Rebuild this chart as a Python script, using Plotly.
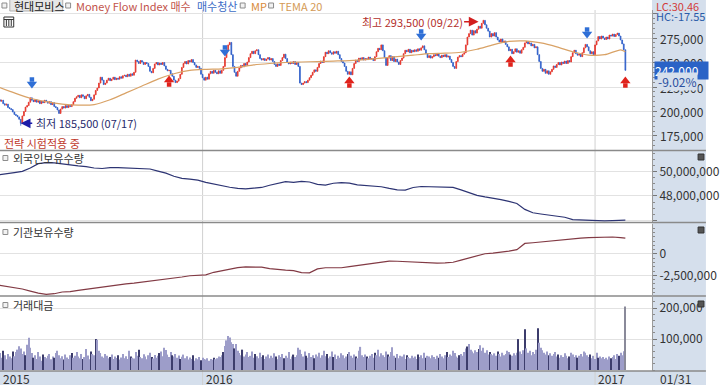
import plotly.graph_objects as go

# ---------------- data ----------------
# daily closes, thousands of KRW (2015-06 .. 2017-01-31), trading-day index 0..393
close_k = [
    212.0, 210.5, 211.5, 208.0, 206.5, 207.5, 204.0, 203.0, 202.0, 199.5,
    197.0, 196.0, 194.5, 192.0, 188.0, 195.5, 200.0, 204.5, 206.0, 209.5,
    214.0, 211.5, 210.0, 212.0, 209.5, 211.0, 208.0, 210.5, 209.0, 211.5,
    210.0, 208.5, 210.0, 207.0, 209.0, 205.0, 204.0, 201.5, 198.0, 202.5,
    205.0, 203.5, 206.0, 204.0, 206.5, 205.0, 207.0, 210.0, 213.5, 215.0,
    216.5, 214.0, 217.0, 215.5, 213.0, 216.0, 217.5, 214.5, 211.0, 212.5,
    217.0, 221.5, 224.0, 229.0, 235.0, 232.0, 227.5, 229.0, 232.0, 234.0,
    231.5, 233.0, 235.0, 232.5, 234.0, 233.0, 235.5, 234.0, 236.5, 237.0,
    235.5, 238.0, 236.0, 238.5, 237.0, 240.0, 252.5, 251.0, 249.0, 252.0,
    250.5, 248.0, 250.0, 249.0, 246.0, 241.0, 239.5, 244.0, 248.5, 250.0,
    247.5, 249.5, 248.0, 250.0, 246.5, 243.0, 241.5, 242.0, 238.5, 236.0,
    232.0, 229.5, 231.0, 233.5, 238.0, 245.0, 249.0, 251.0, 248.5, 252.0,
    250.5, 253.0, 250.0, 247.5, 245.0, 246.0, 244.0, 238.0, 234.5, 232.0,
    235.0, 233.0, 238.5, 241.0, 239.0, 242.0, 240.0, 238.5, 241.5, 239.0,
    242.0, 246.0, 255.0, 263.0, 268.0, 270.5, 258.0, 246.0, 240.0, 236.0,
    241.0, 244.5, 247.0, 245.5, 249.0, 247.0, 250.5, 255.0, 259.0, 261.5,
    259.0, 262.0, 263.0, 258.0, 254.0, 252.5, 254.0, 252.0, 253.5, 255.0,
    252.5, 254.0, 251.0, 248.0, 246.0, 248.5, 247.0, 252.0, 255.0, 258.5,
    254.0, 250.0, 248.5, 250.5, 249.0, 251.0, 248.0, 250.0, 246.0, 229.0,
    227.5, 229.0, 230.5, 229.5, 232.0, 234.5, 237.0, 240.0, 242.5, 241.0,
    245.0, 249.0, 251.5, 250.0, 256.0, 260.5, 259.0, 262.0, 260.0, 258.5,
    261.0, 259.5, 261.5, 258.0, 254.0, 251.0, 249.5, 246.0, 241.0, 238.0,
    240.5, 237.5, 244.0, 249.0, 252.5, 251.0, 254.5, 253.0, 255.0, 252.5,
    254.0, 253.0, 255.5, 253.5, 254.0, 252.0, 256.0, 261.0, 264.5, 263.0,
    268.0, 262.0, 255.0, 247.0, 254.5, 257.0, 252.0, 256.0, 251.0, 253.5,
    250.5, 248.0, 252.0, 254.5, 259.0, 262.5, 261.0, 263.5, 260.0, 262.5,
    261.0, 263.0, 261.5, 264.0, 262.5, 265.0, 267.0, 263.0, 259.0, 255.0,
    257.0, 254.5, 256.0, 258.0, 257.0, 259.0, 256.5, 255.0, 257.5, 256.0,
    258.0, 255.5, 256.5, 253.0, 250.0, 246.0, 244.0, 251.0, 255.5, 257.0,
    256.0, 258.5, 260.0, 268.0, 276.0, 279.5, 283.0, 278.0, 282.5, 280.0,
    284.0, 287.0, 285.0, 290.0, 293.0, 288.5, 285.0, 282.0, 276.0, 279.5,
    277.0, 280.5, 276.0, 273.0, 271.0, 274.0, 270.5, 272.0, 268.5, 266.0,
    262.0, 263.5, 259.0, 261.0, 264.0, 260.5, 262.0, 259.5, 263.0, 265.5,
    270.0, 271.5, 269.0, 270.0, 267.0, 268.5, 265.0, 266.0, 258.0, 251.0,
    244.0, 241.0, 243.0, 239.0, 241.5, 238.0, 240.5, 243.0, 246.5, 245.0,
    248.0, 250.0, 247.5, 250.5, 249.0, 251.5, 249.0, 252.0, 250.5, 256.0,
    260.0, 262.5, 259.0, 257.5, 258.5, 256.0, 260.0, 265.0, 268.5, 266.0,
    262.0, 259.0, 261.0, 258.0, 268.0, 272.0, 276.5, 274.0, 277.0, 275.0,
    273.5, 276.0, 274.0, 278.0, 277.0, 279.0, 276.5, 278.5, 280.0, 277.0,
    273.0, 269.0, 263.0, 242.0,
]
first_open_k = 213.0
low_day, low_value = 14, 185500
high_day, high_value = 304, 293500

# MP line (sparse readings)
mp_idx = [0, 10, 20, 30, 40, 50, 60, 70, 80, 90, 100, 110, 120, 130, 140, 150, 160, 170, 180, 190,
          200, 210, 220, 230, 240, 250, 260, 270, 280, 290, 300, 310, 320, 330, 340, 350, 360, 370,
          380, 390, 393]
mp_k = [225, 219, 213.5, 210, 207.5, 206.5, 207, 212, 219, 226, 233, 238.5, 242, 243, 243.5, 245,
        247.5, 249, 250, 250.5, 251, 251.5, 252, 253, 254.5, 256, 257.5, 259, 259.5, 260.5, 263.5,
        268, 271.5, 272, 270, 266, 261, 257.5, 258, 263, 261]

# foreign / institutional holdings (millions of shares), every 5 trading days
hold_idx = list(range(0, 394, 5)) + [393]
foreign_m = [49.73, 49.85, 49.92, 50.02, 50.30, 50.66, 50.74, 50.72, 50.62, 50.55,
             50.48, 50.42, 50.30, 50.26, 50.34, 50.33, 50.30, 50.29, 50.27, 50.22,
             50.05, 49.88, 49.62, 49.45, 49.38, 49.30, 49.12, 48.98, 48.80, 48.72,
             48.62, 48.58, 48.64, 48.70, 48.88, 49.05, 49.18, 49.12, 49.20, 49.15,
             48.95, 48.90, 49.05, 49.10, 49.05, 48.92, 48.85, 48.82, 48.76, 48.62,
             48.50, 48.48, 48.70, 48.78, 48.76, 48.78, 48.74, 48.70, 48.50, 48.30,
             48.05, 47.92, 47.84, 47.70, 47.55, 47.38, 46.90, 46.62, 46.52, 46.42,
             46.36, 46.25, 46.05, 46.02, 45.96, 45.97, 45.95, 45.98, 46.00, 46.02]
inst_m = [-3.65, -3.78, -3.95, -4.10, -4.35, -4.58, -4.72, -4.65, -4.45, -4.40,
          -4.25, -4.12, -3.95, -3.88, -3.70, -3.62, -3.50, -3.42, -3.30, -3.22,
          -3.10, -3.02, -2.85, -2.70, -2.55, -2.48, -2.44, -2.15, -1.98, -1.80,
          -1.60, -1.52, -1.50, -1.55, -1.72, -1.85, -1.90, -1.95, -2.18, -2.22,
          -1.75, -1.62, -1.65, -1.62, -1.48, -1.35, -1.28, -1.15, -1.02, -0.85,
          -0.86, -0.92, -0.95, -1.02, -1.06, -1.08, -1.05, -0.98, -0.72, -0.48,
          -0.15, 0.02, 0.10, 0.20, 0.32, 0.50, 1.22, 1.30, 1.40, 1.45,
          1.58, 1.70, 1.80, 1.85, 1.90, 1.92, 1.94, 1.97, 1.90, 1.84]

# trading value (millions of KRW, in thousands)
value_k = [
    94, 55, 40, 62, 48, 35, 52, 44, 38, 60, 45, 58, 66, 77, 70, 52, 60, 48, 82, 104,
    72, 55, 40, 48, 36, 58, 44, 30, 50, 42, 38, 46, 52, 35, 44, 40, 55, 62, 48, 38,
    45, 34, 50, 41, 36, 48, 55, 40, 46, 58, 44, 38, 52, 36, 42, 68, 47, 35, 60, 52,
    48, 100, 98, 62, 55, 44, 40, 52, 46, 38, 42, 50, 36, 44, 39, 48, 34, 41, 52, 38,
    45, 36, 62, 44, 40, 37, 58, 46, 66, 42, 38, 51, 44, 35, 48, 56, 42, 37, 49, 40,
    46, 55, 60, 45, 72, 65, 50, 42, 58, 48, 44, 52, 40, 47, 36, 43, 50, 38, 45, 34,
    41, 36, 48, 30, 38, 35, 42, 32, 40, 36, 34, 38, 30, 36, 33, 40, 35, 38, 44, 42,
    48, 58, 78, 96, 110, 105, 90, 84, 70, 84, 62, 55, 48, 66, 44, 50, 58, 42, 46, 60,
    40, 52, 45, 38, 56, 42, 48, 36, 44, 50, 38, 46, 40, 54, 44, 35, 48, 42, 52, 38,
    46, 40, 58, 36, 44, 50, 42, 48, 72, 66, 52, 44, 60, 46, 40, 55, 42, 48, 38, 50,
    44, 56, 40, 48, 62, 45, 52, 38, 44, 60, 42, 50, 36, 46, 40, 54, 48, 38, 44, 52,
    58, 46, 40, 50, 44, 38, 62, 75, 48, 42, 50, 44, 38, 46, 52, 40, 56, 48, 66, 44,
    54, 48, 42, 60, 50, 44, 58, 74, 46, 40, 52, 38, 46, 44, 50, 36, 48, 42, 38, 46,
    40, 44, 36, 50, 42, 48, 38, 56, 40, 46, 44, 38, 48, 42, 36, 46, 40, 52, 44, 38,
    48, 58, 42, 50, 46, 62, 55, 44, 40, 48, 52, 46, 58, 70, 76, 84, 66, 60, 54, 64,
    58, 68, 80, 62, 72, 56, 64, 50, 58, 52, 48, 54, 46, 60, 52, 44, 56, 48, 52, 62,
    58, 50, 46, 54, 48, 56, 100, 60, 52, 64, 132, 70, 56, 62, 48, 58, 52, 66, 135, 88,
    72, 64, 56, 50, 60, 48, 54, 46, 52, 58, 44, 50, 40, 48, 42, 54, 46, 38, 44, 56,
    50, 42, 48, 40, 46, 52, 44, 60, 56, 48, 42, 50, 38, 46, 36, 56, 40, 44, 38, 42,
    36, 40, 34, 44, 38, 42, 48, 36, 52, 46, 56, 48, 61, 205,
]
dark_bars = [3, 9, 17, 22, 28, 35, 41, 46, 53, 58, 61, 70, 75, 83, 88, 96, 101, 109, 114, 122,
             127, 135, 141, 148, 153, 161, 166, 174, 179, 185, 193, 198, 206, 210, 219, 224,
             231, 236, 244, 249, 256, 263, 268, 276, 281, 289, 294, 301, 308, 313, 321, 326,
             330, 338, 345, 351, 358, 363, 371, 376, 384, 389, 393]

# Money Flow Index signals (index, price in thousands)
buy_idx = [107, 220, 321, 393]
buy_k = [230.1, 229.1, 250.5, 229.1]
sell_idx = [21, 142, 265, 369]
sell_k = [230.1, 262.8, 279.1, 281.1]

year_idx = [128, 374]
year_labels = ["2016", "2017"]

price_ticks = [175000, 200000, 225000, 250000, 275000]
price_labels = ["175,000", "200,000", "225,000", "250,000", "275,000"]

# ---------------- build ----------------
n = len(close_k)
x = list(range(n))
close = [v * 1000 for v in close_k]
opens = [first_open_k * 1000] + close[:-1]
high = [max(o, c) for o, c in zip(opens, close)]
low = [min(o, c) for o, c in zip(opens, close)]
low[low_day] = low_value
high[high_day] = high_value

FONT = "Noto Sans CJK KR, Noto Sans, sans-serif"
W, H = 720, 385
L, R, T, B = 0, 55, 10, 14
PW, PH = W - L - R, H - T - B
Y1_RANGE = [160700, 303600]


def px(xp):
    return (xp - L) / PW


def py(yp):
    return (H - B - yp) / PH


fig = go.Figure()

fig.add_trace(go.Candlestick(
    x=x, open=opens, high=high, low=low, close=close,
    increasing=dict(line=dict(color="#E5352B", width=0.8), fillcolor="#E5352B"),
    decreasing=dict(line=dict(color="#2F5EC9", width=0.8), fillcolor="#2F5EC9"),
    whiskerwidth=0, xaxis="x", yaxis="y", hoverinfo="skip"))

fig.add_trace(go.Scatter(x=mp_idx, y=[v * 1000 for v in mp_k], mode="lines",
                         line=dict(color="#D9A266", width=1.2, shape="spline", smoothing=0.6),
                         xaxis="x", yaxis="y", hoverinfo="skip"))

# signal arrows (triangle head + square stem)
k = 1020.0
fig.add_trace(go.Scatter(x=buy_idx, y=[v * 1000 + 2 * k for v in buy_k], mode="markers",
                         marker=dict(symbol="triangle-up", size=9, color="#E0231C"),
                         xaxis="x", yaxis="y", hoverinfo="skip"))
fig.add_trace(go.Scatter(x=buy_idx, y=[v * 1000 - 2.5 * k for v in buy_k], mode="markers",
                         marker=dict(symbol="square", size=4.5, color="#E0231C"),
                         xaxis="x", yaxis="y", hoverinfo="skip"))
fig.add_trace(go.Scatter(x=sell_idx, y=[v * 1000 - 2 * k for v in sell_k], mode="markers",
                         marker=dict(symbol="triangle-down", size=9, color="#2F6FD6"),
                         xaxis="x", yaxis="y", hoverinfo="skip"))
fig.add_trace(go.Scatter(x=sell_idx, y=[v * 1000 + 2.5 * k for v in sell_k], mode="markers",
                         marker=dict(symbol="square", size=4.5, color="#2F6FD6"),
                         xaxis="x", yaxis="y", hoverinfo="skip"))

fig.add_trace(go.Scatter(x=hold_idx, y=[v * 1e6 for v in foreign_m], mode="lines",
                         line=dict(color="#2D3473", width=1.2), xaxis="x", yaxis="y2",
                         hoverinfo="skip"))
fig.add_trace(go.Scatter(x=hold_idx, y=[v * 1e6 for v in inst_m], mode="lines",
                         line=dict(color="#823A44", width=1.2), xaxis="x", yaxis="y3",
                         hoverinfo="skip"))

bar_colors = ["#9D9DC9"] * n
for i in dark_bars:
    bar_colors[i] = "#3C3C6C"
bar_colors[-1] = "#8A8A9A"
fig.add_trace(go.Bar(x=x, y=[v * 1000 for v in value_k], marker=dict(color=bar_colors, line=dict(width=0)),
                     xaxis="x", yaxis="y4", hoverinfo="skip"))

tickfont = dict(family=FONT, size=12, color="#333333")
common_y = dict(side="right", anchor="x", showline=True, linecolor="#9A9A9A", linewidth=1,
                ticks="outside", ticklen=4, tickcolor="#777777", tickfont=tickfont,
                gridcolor="#E2E2E2", gridwidth=1, zeroline=False, fixedrange=True)

fig.update_layout(
    width=W, height=H, margin=dict(l=L, r=R, t=T, b=B),
    paper_bgcolor="white", plot_bgcolor="white", showlegend=False,
    bargap=0.3,
    xaxis=dict(range=[1.0, 409.7], anchor="y4", showgrid=False, showticklabels=False,
               zeroline=False, rangeslider=dict(visible=False), ticks=""),
    # price labels are drawn as annotations so the current-price box can sit on top of them
    yaxis=dict(domain=[py(150), 1.0], range=Y1_RANGE,
               tickvals=price_ticks + [300000], ticktext=[""] * (len(price_ticks) + 1),
               minor=dict(tickmode="linear", tick0=0, dtick=5000, ticks="outside", ticklen=2,
                          tickcolor="#8A8A8A", showgrid=False),
               **common_y),
    yaxis2=dict(domain=[py(222), py(151)], range=[45.86e6, 51.70e6],
                tickvals=[46e6, 48e6, 50e6], ticktext=["", "48,000,000", "50,000,000"],
                minor=dict(tickmode="linear", tick0=0, dtick=500000, ticks="outside", ticklen=2,
                           tickcolor="#8A8A8A", showgrid=False),
                **common_y),
    yaxis3=dict(domain=[py(295), py(224)], range=[-4.80e6, 3.49e6],
                tickvals=[-2.5e6, 0], ticktext=["-2,500,000", "0"],
                minor=dict(tickmode="linear", tick0=0, dtick=500000, ticks="outside", ticklen=2,
                           tickcolor="#8A8A8A", showgrid=False),
                **common_y),
    yaxis4=dict(domain=[0, py(297)], range=[-3000, 236000],
                tickvals=[100000, 200000], ticktext=["100,000", "200,000"],
                minor=dict(tickmode="linear", tick0=0, dtick=20000, ticks="outside", ticklen=2,
                           tickcolor="#8A8A8A", showgrid=False),
                **common_y),
)

shapes = []
# right axis panel and bottom strip backgrounds
PANEL = "#D5DFEC"
shapes.append(dict(type="rect", xref="paper", yref="paper", x0=px(665), x1=px(720),
                   y0=py(385), y1=py(0), fillcolor=PANEL, line=dict(width=0), layer="below"))
shapes.append(dict(type="rect", xref="paper", yref="paper", x0=px(0), x1=px(720),
                   y0=py(385), y1=py(371), fillcolor=PANEL, line=dict(width=0), layer="below"))
# year gridlines
for yi in year_idx:
    shapes.append(dict(type="line", xref="x", yref="paper", x0=yi, x1=yi, y0=py(385), y1=py(10),
                       line=dict(color="#D0D0D0", width=1), layer="below"))
# panel separators
for yp in [150.5, 222.5, 296, 371]:
    shapes.append(dict(type="line", xref="paper", yref="paper", x0=px(0), x1=px(720),
                       y0=py(yp), y1=py(yp), line=dict(color="#8A8A8A", width=1.5)))
# small square icons
for (x0, y0) in [(2, 3), (67, 3), (245, 3), (274, 3), (3, 155.5), (3, 229.5), (3, 302.5)]:
    shapes.append(dict(type="rect", xref="paper", yref="paper", x0=px(x0), x1=px(x0 + 5),
                       y0=py(y0 + 5), y1=py(y0), fillcolor="#F2F2F2",
                       line=dict(color="#8C8C8C", width=1)))
# stock name button
shapes.append(dict(type="rect", xref="paper", yref="paper", x0=px(10), x1=px(64),
                   y0=py(11), y1=py(-1), fillcolor="#E6E6E6", line=dict(color="#B0B0B0", width=1)))
# grid icon top-left
shapes.append(dict(type="rect", xref="paper", yref="paper", x0=px(4), x1=px(14),
                   y0=py(27), y1=py(17), fillcolor="white", line=dict(color="#333333", width=1)))
for xi in [6.5, 9, 11.5]:
    shapes.append(dict(type="line", xref="paper", yref="paper", x0=px(xi), x1=px(xi),
                       y0=py(26), y1=py(19.5), line=dict(color="#333333", width=1)))
shapes.append(dict(type="line", xref="paper", yref="paper", x0=px(4), x1=px(14),
                   y0=py(19.5), y1=py(19.5), line=dict(color="#333333", width=1)))
# panel close icons in right column
for yi in [154, 227, 301]:
    shapes.append(dict(type="rect", xref="paper", yref="paper", x0=px(712), x1=px(718),
                       y0=py(yi + 6), y1=py(yi), fillcolor="#555555", line=dict(color="#333333", width=1)))
fig.update_layout(shapes=shapes)

anns = []


def text(t, xp, yp, color, size=11, xanchor="left", **kw):
    anns.append(dict(text=t, xref="paper", yref="paper", x=px(xp), y=py(yp),
                     xanchor=xanchor, yanchor="middle", showarrow=False,
                     font=dict(family=FONT, size=size, color=color), **kw))


# price axis labels (placed on the price scale)
for v, lab in zip(price_ticks, price_labels):
    anns.append(dict(text=lab, xref="paper", yref="y", x=px(671), y=v, xanchor="left",
                     yanchor="middle", showarrow=False,
                     font=dict(family=FONT, size=12, color="#333333")))

# header
text("현대모비스", 12, 6, "#222222")
text("Money Flow Index 매수", 75, 6, "#C2524A")
text("매수청산", 199, 6, "#3B6CC6")
text("MP", 254, 6, "#D88A3A")
text("TEMA 20", 283, 6, "#D49A55")
text("LC:30.46", 667, 5.5, "#D23B3B")
text("HC:-17.55", 667, 16, "#2A5BA8")
# current price label (box drawn over the 250,000 label)
anns.append(dict(text="242,000", xref="paper", yref="y", x=px(667), y=close[-1], xanchor="left",
                 yanchor="middle", showarrow=False, bgcolor="#2A63C6", width=53, align="left",
                 borderpad=0, font=dict(family=FONT, size=12, color="white")))
text("-9.02%", 670, 81, "#2A4FA0", size=12, bgcolor=PANEL, borderpad=0)
# panel titles
text("전략 시험적용 중", 2, 143, "#C0392B")
text("외국인보유수량", 11, 158, "#333333")
text("기관보유수량", 11, 232, "#333333")
text("거래대금", 11, 305, "#333333")
# x labels
text("2015", 1, 378.5, "#333333", size=12)
for yi, lab in zip(year_idx, year_labels):
    anns.append(dict(text=lab, xref="x", yref="paper", x=yi, y=py(378.5), xanchor="left",
                     yanchor="middle", showarrow=False, xshift=1,
                     font=dict(family=FONT, size=12, color="#333333")))
text("01/31", 671, 378.5, "#333333", size=12)

# high / low markers
anns.append(dict(text="", x=low_day, y=low_value + 2500, xref="x", yref="y", showarrow=True,
                 ax=13, ay=0, arrowhead=2, arrowsize=1.3, arrowwidth=1.5, arrowcolor="#1C1CA8"))
anns.append(dict(text="최저 185,500 (07/17)", x=px(35), y=py(123), xref="paper", yref="paper",
                 xanchor="left", yanchor="middle", showarrow=False,
                 font=dict(family=FONT, size=11, color="#1F2A6B")))
anns.append(dict(text="", x=high_day - 3, y=291700, xref="x", yref="y", showarrow=True,
                 ax=-16, ay=0, arrowhead=2, arrowsize=1.3, arrowwidth=1.5, arrowcolor="#D21E1E"))
anns.append(dict(text="최고 293,500 (09/22)", x=px(474), y=py(22), xref="paper", yref="paper",
                 xanchor="right", yanchor="middle", showarrow=False,
                 font=dict(family=FONT, size=11, color="#B3302C")))

fig.update_layout(annotations=anns)

fig.write_html("out.html", config={"displayModeBar": False},
               post_script="document.body.style.margin='0';document.body.style.overflow='hidden';")
